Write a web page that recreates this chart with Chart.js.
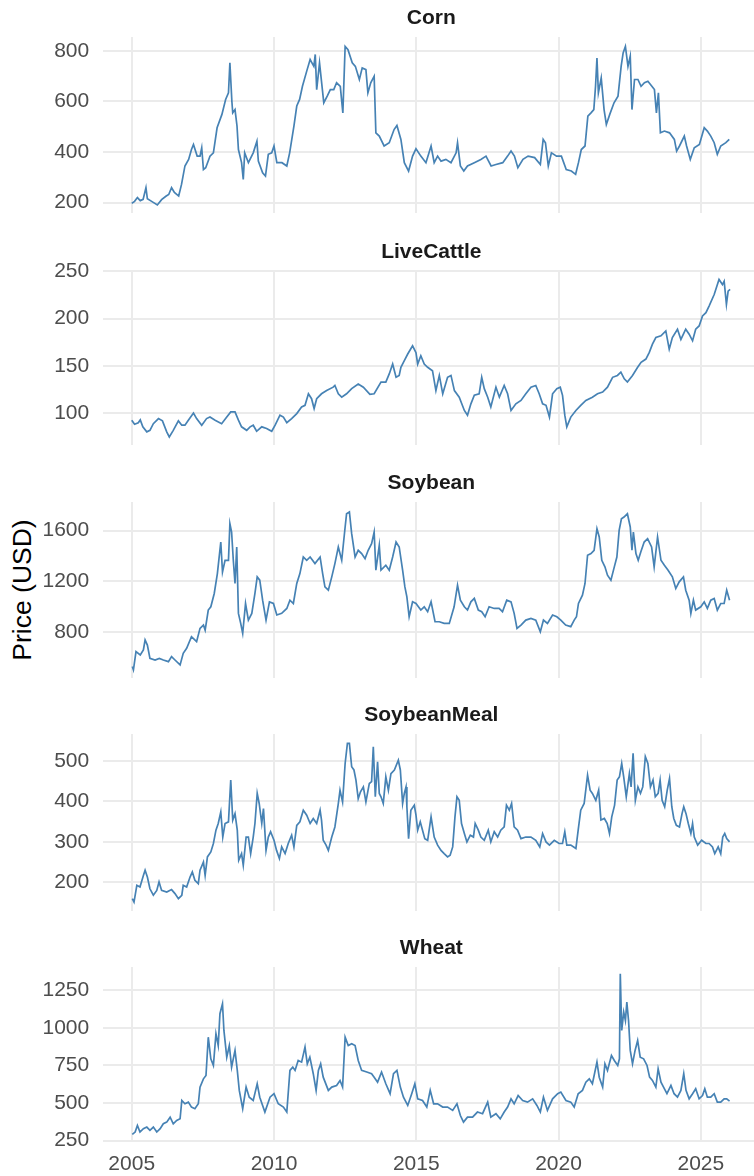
<!DOCTYPE html>
<html>
<head>
<meta charset="utf-8">
<title>Commodity futures prices</title>
<script src="https://cdn.jsdelivr.net/npm/chart.js@4.4.1/dist/chart.umd.min.js"></script>
<style>
  html, body { margin: 0; padding: 0; background: #ffffff; width: 754px; height: 1176px; overflow: hidden; }
  #wrap { position: relative; width: 754px; height: 1176px; overflow: hidden; }
  #wrap canvas { position: absolute; left: 0; }
  #ytitle {
    position: absolute; left: 21.7px; top: 589.5px;
    transform: translate(-50%, -50%) rotate(-90deg);
    font: 26.5px "Liberation Sans", Arial, Helvetica, sans-serif;
    color: #000000; white-space: nowrap;
  }
</style>
</head>
<body>
<div id="wrap"><div id="ytitle">Price (USD)</div></div>
<script>
// ---- data: [decimal year, price] ----
const corn = [[2005.00,197],[2005.10,205],[2005.20,220],[2005.30,208],[2005.40,213],[2005.50,259],[2005.55,215],[2005.70,205],[2005.90,191],[2006.05,212],[2006.20,225],[2006.30,232],[2006.40,259],[2006.50,240],[2006.65,226],[2006.75,272],[2006.87,345],[2007.00,371],[2007.10,410],[2007.17,430],[2007.30,384],[2007.40,384],[2007.46,417],[2007.52,331],[2007.60,338],[2007.75,384],[2007.87,397],[2008.00,496],[2008.17,549],[2008.30,608],[2008.40,634],[2008.45,753],[2008.52,600],[2008.55,555],[2008.63,568],[2008.70,503],[2008.75,410],[2008.86,358],[2008.92,292],[2008.97,397],[2009.10,358],[2009.27,397],[2009.40,443],[2009.45,364],[2009.60,318],[2009.70,305],[2009.80,391],[2009.92,397],[2010.00,424],[2010.10,358],[2010.28,358],[2010.45,345],[2010.55,397],[2010.70,503],[2010.80,582],[2010.90,608],[2011.00,660],[2011.15,720],[2011.27,766],[2011.40,739],[2011.45,786],[2011.50,647],[2011.60,753],[2011.75,595],[2011.87,621],[2011.98,647],[2012.10,647],[2012.20,674],[2012.33,660],[2012.42,555],[2012.50,818],[2012.60,805],[2012.75,753],[2012.86,739],[2013.00,687],[2013.10,733],[2013.23,726],[2013.30,634],[2013.40,674],[2013.52,700],[2013.58,476],[2013.70,463],[2013.87,424],[2014.05,437],[2014.22,489],[2014.32,505],[2014.46,450],[2014.58,358],[2014.73,325],[2014.87,384],[2014.99,413],[2015.16,384],[2015.34,358],[2015.52,424],[2015.63,358],[2015.75,384],[2015.87,364],[2016.04,371],[2016.22,358],[2016.40,397],[2016.45,437],[2016.55,345],[2016.67,325],[2016.80,345],[2017.04,358],[2017.27,371],[2017.45,384],[2017.63,345],[2017.80,351],[2018.04,358],[2018.21,384],[2018.33,404],[2018.45,384],[2018.57,338],[2018.75,371],[2018.93,384],[2019.16,378],[2019.36,351],[2019.46,450],[2019.54,437],[2019.64,345],[2019.75,397],[2019.93,384],[2020.10,384],[2020.27,331],[2020.45,325],[2020.60,312],[2020.70,358],[2020.80,410],[2020.93,424],[2021.03,542],[2021.14,555],[2021.24,568],[2021.30,660],[2021.35,772],[2021.40,634],[2021.50,693],[2021.60,568],[2021.68,509],[2021.80,549],[2021.95,595],[2022.09,621],[2022.20,739],[2022.27,792],[2022.35,818],[2022.44,739],[2022.52,779],[2022.58,568],[2022.67,687],[2022.79,687],[2022.90,660],[2023.02,674],[2023.14,680],[2023.28,660],[2023.37,647],[2023.44,555],[2023.51,634],[2023.58,476],[2023.72,483],[2023.90,476],[2024.07,450],[2024.15,404],[2024.25,424],[2024.42,463],[2024.50,424],[2024.63,371],[2024.77,417],[2024.95,430],[2025.12,496],[2025.23,483],[2025.35,463],[2025.47,437],[2025.58,391],[2025.70,424],[2025.88,437],[2026.00,450]];

const liveCattle = [[2005.00,92.7],[2005.10,88.5],[2005.23,90],[2005.30,93],[2005.39,85.7],[2005.53,80.4],[2005.64,82],[2005.76,89],[2005.94,94.4],[2006.08,92],[2006.23,80.4],[2006.32,75],[2006.46,82],[2006.64,92],[2006.76,87.4],[2006.87,87.4],[2006.99,92.7],[2007.17,100.3],[2007.28,94.4],[2007.46,87.4],[2007.63,94.4],[2007.75,96],[2007.93,92.7],[2008.16,89],[2008.34,96],[2008.48,101.4],[2008.63,101.4],[2008.75,92.7],[2008.86,85.7],[2009.04,82],[2009.16,85.7],[2009.27,87.4],[2009.39,81],[2009.57,85.7],[2009.74,84],[2009.92,81],[2010.04,87.4],[2010.21,98],[2010.33,96],[2010.45,90],[2010.62,94.4],[2010.80,99.7],[2010.97,106.6],[2011.09,108.4],[2011.21,120.6],[2011.32,115.4],[2011.41,105],[2011.50,115.4],[2011.67,120.6],[2011.85,124],[2012.08,127.6],[2012.14,129.4],[2012.26,120.6],[2012.38,117],[2012.55,120.6],[2012.73,126],[2012.96,131],[2013.14,127.6],[2013.37,120],[2013.52,120.6],[2013.76,133],[2013.93,133],[2014.05,141.6],[2014.17,152],[2014.29,138],[2014.40,139.9],[2014.46,148.6],[2014.58,155.6],[2014.70,162.6],[2014.87,171.3],[2014.99,164],[2015.05,152],[2015.16,160.8],[2015.28,152],[2015.40,148.6],[2015.57,145],[2015.69,124],[2015.81,140],[2015.93,120.6],[2016.10,138],[2016.22,140],[2016.34,124],[2016.51,117],[2016.69,103],[2016.80,98],[2016.92,110],[2017.04,119],[2017.21,120.6],[2017.30,138],[2017.39,126],[2017.51,117],[2017.62,106.6],[2017.80,127.6],[2017.92,117],[2018.09,129.4],[2018.21,120.6],[2018.33,103],[2018.50,110],[2018.68,113.6],[2018.85,120.6],[2019.03,127.6],[2019.20,129.4],[2019.32,120.6],[2019.44,110],[2019.56,108.4],[2019.68,96],[2019.79,120.6],[2019.94,126],[2020.06,127.6],[2020.14,119],[2020.22,98],[2020.29,85.7],[2020.43,96],[2020.61,103],[2020.78,108.4],[2020.96,113.6],[2021.19,117],[2021.37,120.6],[2021.55,122.4],[2021.72,127.6],[2021.90,138],[2022.07,140],[2022.19,143.4],[2022.31,136.4],[2022.42,133],[2022.60,140],[2022.78,148.6],[2022.90,153.9],[2023.07,157.3],[2023.19,164.3],[2023.30,173],[2023.42,180],[2023.60,181.8],[2023.77,187],[2023.89,167.8],[2024.00,180],[2024.18,188.8],[2024.30,178],[2024.47,188.8],[2024.59,183.6],[2024.71,176.6],[2024.82,188.8],[2024.94,192.3],[2025.06,202.8],[2025.18,206.3],[2025.29,213.3],[2025.47,225.5],[2025.64,241.3],[2025.76,236],[2025.82,239.5],[2025.90,215],[2025.96,229],[2026.03,230.8]];

const soybean = [[2005.02,526],[2005.06,500],[2005.15,644],[2005.30,618],[2005.41,657],[2005.47,736],[2005.55,696],[2005.64,591],[2005.82,578],[2005.97,591],[2006.11,578],[2006.29,565],[2006.40,605],[2006.52,578],[2006.70,539],[2006.81,631],[2006.93,670],[2007.10,762],[2007.28,723],[2007.40,828],[2007.52,854],[2007.58,814],[2007.69,972],[2007.78,998],[2007.90,1103],[2008.01,1260],[2008.13,1509],[2008.19,1273],[2008.28,1365],[2008.40,1365],[2008.45,1654],[2008.51,1588],[2008.57,1365],[2008.63,1182],[2008.69,1470],[2008.75,946],[2008.83,867],[2008.90,788],[2009.00,1024],[2009.10,893],[2009.22,946],[2009.33,1103],[2009.41,1234],[2009.50,1208],[2009.60,1050],[2009.72,893],[2009.84,1037],[2009.98,1024],[2010.10,933],[2010.27,946],[2010.45,985],[2010.56,1050],[2010.68,1024],[2010.80,1182],[2010.91,1260],[2011.03,1391],[2011.15,1365],[2011.27,1391],[2011.44,1339],[2011.62,1391],[2011.71,1260],[2011.79,1155],[2011.91,1129],[2012.03,1234],[2012.14,1339],[2012.26,1470],[2012.38,1365],[2012.50,1628],[2012.55,1732],[2012.65,1746],[2012.73,1575],[2012.85,1391],[2012.96,1444],[2013.08,1418],[2013.20,1378],[2013.31,1444],[2013.43,1496],[2013.52,1588],[2013.58,1287],[2013.70,1483],[2013.76,1287],[2013.93,1326],[2014.05,1287],[2014.17,1391],[2014.29,1509],[2014.40,1470],[2014.52,1287],[2014.60,1155],[2014.67,1077],[2014.75,919],[2014.87,1037],[2014.99,1024],[2015.16,972],[2015.28,998],[2015.40,959],[2015.52,1037],[2015.66,880],[2015.81,880],[2015.98,867],[2016.16,867],[2016.33,998],[2016.45,1169],[2016.55,1050],[2016.69,998],[2016.80,972],[2016.92,1037],[2017.04,1064],[2017.18,972],[2017.30,959],[2017.42,919],[2017.56,998],[2017.74,985],[2017.91,985],[2018.03,959],[2018.18,1050],[2018.33,1037],[2018.44,946],[2018.54,828],[2018.68,854],[2018.85,893],[2019.03,906],[2019.20,893],[2019.36,801],[2019.47,893],[2019.61,867],[2019.79,933],[2019.94,919],[2020.08,893],[2020.25,854],[2020.43,841],[2020.55,893],[2020.63,919],[2020.70,1024],[2020.84,1090],[2020.93,1182],[2021.02,1405],[2021.14,1418],[2021.25,1444],[2021.35,1614],[2021.43,1549],[2021.52,1365],[2021.63,1313],[2021.72,1247],[2021.84,1208],[2021.96,1313],[2022.05,1391],[2022.13,1601],[2022.21,1693],[2022.30,1706],[2022.42,1732],[2022.52,1628],[2022.58,1444],[2022.63,1588],[2022.72,1418],[2022.80,1365],[2022.89,1431],[2023.01,1509],[2023.13,1536],[2023.27,1470],[2023.36,1313],[2023.48,1549],[2023.60,1365],[2023.72,1326],[2023.85,1287],[2024.00,1234],[2024.12,1142],[2024.24,1195],[2024.39,1234],[2024.47,1129],[2024.59,1050],[2024.65,946],[2024.74,1050],[2024.82,972],[2025.00,998],[2025.12,1037],[2025.23,985],[2025.35,1050],[2025.47,1064],[2025.58,972],[2025.70,1024],[2025.82,1024],[2025.91,1129],[2026.01,1050]];

const soybeanMeal = [[2005.02,159.5],[2005.08,151],[2005.18,192.6],[2005.29,188.4],[2005.41,217],[2005.47,230],[2005.55,213],[2005.64,184],[2005.76,168],[2005.88,180],[2005.96,201],[2006.05,180],[2006.23,176],[2006.40,182],[2006.52,172],[2006.64,159.5],[2006.76,168],[2006.81,192.6],[2006.93,188.4],[2007.05,213],[2007.13,225.6],[2007.22,205],[2007.34,196.7],[2007.40,230],[2007.52,250],[2007.58,217],[2007.66,262.8],[2007.78,275],[2007.87,296],[2007.96,329],[2008.04,345.5],[2008.13,374],[2008.20,312],[2008.28,345.5],[2008.40,349.6],[2008.48,453],[2008.55,354],[2008.63,370],[2008.71,329],[2008.76,254.5],[2008.86,271],[2008.92,242],[2009.02,312],[2009.10,312],[2009.18,271],[2009.27,312],[2009.33,345.5],[2009.41,420],[2009.48,395],[2009.57,345.5],[2009.63,382.6],[2009.72,279],[2009.80,312],[2009.88,325],[2010.00,304],[2010.09,279],[2010.19,258.7],[2010.27,287.6],[2010.39,271],[2010.50,296],[2010.62,316.5],[2010.70,287.6],[2010.80,341],[2010.91,349.6],[2011.03,378.5],[2011.15,366],[2011.27,345.5],[2011.38,358],[2011.50,345.5],[2011.62,378.5],[2011.67,353.7],[2011.73,304],[2011.83,292],[2011.91,279],[2012.03,312],[2012.14,337],[2012.26,395],[2012.32,428],[2012.41,399],[2012.50,494],[2012.58,544],[2012.65,544],[2012.73,486],[2012.81,478],[2012.88,453],[2012.96,407],[2013.04,424],[2013.14,436],[2013.23,399],[2013.35,444.6],[2013.43,449],[2013.49,535.5],[2013.56,411.6],[2013.64,498],[2013.70,420],[2013.76,411.6],[2013.84,395],[2013.93,461],[2014.02,428],[2014.11,469],[2014.23,478],[2014.37,502],[2014.44,478],[2014.52,395],[2014.58,420],[2014.64,436],[2014.67,387],[2014.73,308],[2014.81,378.5],[2014.93,391],[2014.99,366],[2015.05,329],[2015.14,349.6],[2015.22,329],[2015.30,308],[2015.40,304],[2015.52,362],[2015.63,312],[2015.75,292],[2015.87,279],[2015.98,271],[2016.10,263],[2016.19,267],[2016.28,287.6],[2016.36,362],[2016.43,411.6],[2016.51,403],[2016.59,345.5],[2016.69,320.7],[2016.78,300],[2016.90,316.5],[2017.01,312],[2017.07,345.5],[2017.18,329],[2017.27,312],[2017.39,304],[2017.53,329],[2017.62,300],[2017.74,325],[2017.86,312],[2017.97,329],[2018.09,337],[2018.17,391],[2018.27,378.5],[2018.35,395],[2018.44,337],[2018.56,329],[2018.68,308],[2018.85,312],[2019.03,312],[2019.20,304],[2019.34,287.6],[2019.44,320.7],[2019.56,300],[2019.68,292],[2019.85,304],[2020.02,296],[2020.14,296],[2020.22,325],[2020.29,292],[2020.43,292],[2020.61,283.5],[2020.69,329],[2020.78,378.5],[2020.90,395],[2021.02,465],[2021.11,428],[2021.19,420],[2021.31,403],[2021.41,428],[2021.49,354],[2021.61,358],[2021.71,345.5],[2021.79,320.7],[2021.87,362],[2021.97,391],[2022.06,453],[2022.14,461],[2022.22,494],[2022.29,461],[2022.38,411.6],[2022.49,469],[2022.55,436],[2022.62,519],[2022.70,403],[2022.79,436],[2022.88,420],[2022.96,436],[2023.05,511],[2023.14,494],[2023.23,436],[2023.32,453],[2023.40,411.6],[2023.50,420],[2023.57,453],[2023.64,403],[2023.73,387],[2023.82,428],[2023.90,457],[2023.98,387],[2024.05,358],[2024.14,341],[2024.25,337],[2024.34,370],[2024.40,387],[2024.48,370],[2024.56,345.5],[2024.65,320.7],[2024.71,345.5],[2024.77,312],[2024.89,292],[2025.03,304],[2025.18,296],[2025.29,296],[2025.41,287.6],[2025.49,271],[2025.61,287.6],[2025.70,271],[2025.77,312],[2025.84,320.7],[2025.91,308],[2026.01,300]];

const wheat = [[2005.02,291],[2005.12,307],[2005.20,351],[2005.29,307],[2005.41,329],[2005.53,340],[2005.64,318],[2005.76,340],[2005.88,307],[2006.00,329],[2006.11,362],[2006.23,373],[2006.35,406],[2006.46,362],[2006.58,384],[2006.70,395],[2006.76,517],[2006.87,495],[2006.99,506],[2007.10,473],[2007.22,462],[2007.34,495],[2007.40,606],[2007.52,661],[2007.61,683],[2007.69,938],[2007.78,794],[2007.87,750],[2007.96,961],[2008.04,883],[2008.10,1094],[2008.19,1160],[2008.24,983],[2008.34,805],[2008.43,883],[2008.51,739],[2008.63,850],[2008.71,717],[2008.78,584],[2008.90,462],[2009.02,606],[2009.13,539],[2009.27,517],[2009.41,628],[2009.50,539],[2009.68,440],[2009.86,539],[2010.00,562],[2010.15,495],[2010.33,473],[2010.45,440],[2010.56,717],[2010.66,739],[2010.74,717],[2010.85,783],[2010.97,772],[2011.09,872],[2011.17,761],[2011.26,805],[2011.38,695],[2011.48,584],[2011.56,717],[2011.64,761],[2011.73,672],[2011.91,584],[2012.03,606],[2012.20,617],[2012.32,650],[2012.41,606],[2012.50,938],[2012.61,883],[2012.73,894],[2012.85,883],[2012.96,783],[2013.08,717],[2013.26,706],[2013.43,695],[2013.52,672],[2013.64,639],[2013.78,706],[2013.93,628],[2014.08,562],[2014.20,695],[2014.32,717],[2014.44,606],[2014.55,539],[2014.70,484],[2014.84,562],[2014.95,628],[2015.05,528],[2015.22,517],[2015.37,473],[2015.49,584],[2015.61,495],[2015.75,495],[2015.93,473],[2016.10,473],[2016.28,451],[2016.43,495],[2016.55,417],[2016.66,373],[2016.80,406],[2016.98,406],[2017.15,440],[2017.33,429],[2017.51,506],[2017.62,406],[2017.80,429],[2017.95,395],[2018.09,440],[2018.21,473],[2018.33,528],[2018.44,495],[2018.58,550],[2018.74,517],[2018.91,506],[2019.09,528],[2019.24,484],[2019.36,440],[2019.47,539],[2019.61,451],[2019.79,528],[2019.97,562],[2020.08,573],[2020.26,517],[2020.43,506],[2020.55,473],[2020.69,562],[2020.84,584],[2020.96,639],[2021.08,661],[2021.19,628],[2021.35,772],[2021.43,672],[2021.55,606],[2021.63,761],[2021.72,717],[2021.86,816],[2021.96,783],[2022.08,750],[2022.14,794],[2022.17,1360],[2022.22,983],[2022.29,1105],[2022.35,1049],[2022.40,1171],[2022.46,1049],[2022.52,850],[2022.60,761],[2022.69,850],[2022.78,916],[2022.87,805],[2022.99,794],[2023.11,750],[2023.20,672],[2023.30,650],[2023.42,606],[2023.50,728],[2023.60,639],[2023.69,606],[2023.81,562],[2023.95,617],[2024.06,562],[2024.18,539],[2024.30,584],[2024.40,695],[2024.48,584],[2024.59,528],[2024.71,562],[2024.82,595],[2024.94,528],[2025.06,550],[2025.14,595],[2025.23,539],[2025.35,539],[2025.47,562],[2025.58,506],[2025.70,506],[2025.82,528],[2025.91,528],[2026.01,513]];

// ---- axis ticks ----
const yearTicks = [2005, 2010, 2015, 2020, 2025];
const cornTicks = [200, 400, 600, 800];
const cattleTicks = [100, 150, 200, 250];
const soybeanTicks = [800, 1200, 1600];
const mealTicks = [200, 300, 400, 500];
const wheatTicks = [250, 500, 750, 1000, 1250];

// ---- facets ----
const facets = [
  { name: 'Corn',        series: corn,        ticks: cornTicks,    min: 159,   max: 855 },
  { name: 'LiveCattle',  series: liveCattle,  ticks: cattleTicks,  min: 66.5,  max: 250.3 },
  { name: 'Soybean',     series: soybean,     ticks: soybeanTicks, min: 436,   max: 1825 },
  { name: 'SoybeanMeal', series: soybeanMeal, ticks: mealTicks,    min: 129,   max: 567 },
  { name: 'Wheat',       series: wheat,       ticks: wheatTicks,   min: 240.7, max: 1405 }
];

// ---- layout (px) ----
const panelTops    = [37, 271, 502, 734, 967];
const panelHeights = [176, 174, 176, 177, 175];
const stripSpace = 37;      // room for the facet title above each panel
const xAxisSpace = 34;      // room for year labels under the last panel
const axisWidth = 102.7;    // y tick label column
const canvasWidth = 760;
const xRange = [2003.98, 2027.08];

const FONT = '"Liberation Sans", Arial, Helvetica, sans-serif';
const LINE_COLOR = '#4682B4';
const GRID_COLOR = '#EBEBEB';

// facet strip title drawn just above each panel
const stripTitle = {
  id: 'stripTitle',
  afterDraw(chart, args, opts) {
    const { ctx, chartArea } = chart;
    ctx.save();
    ctx.font = 'bold 21px ' + FONT;
    ctx.fillStyle = '#1A1A1A';
    ctx.textAlign = 'center';
    ctx.textBaseline = 'alphabetic';
    ctx.fillText(opts.text, (chartArea.left + chartArea.right) / 2, chartArea.top - 13.4);
    ctx.restore();
  }
};

// keep the panel exactly where the layout says: no extra room for tick label overhang
const noOverhang = s => { s.paddingTop = 0; s.paddingBottom = 0; s.paddingLeft = 0; s.paddingRight = 0; };

const wrap = document.getElementById('wrap');

facets.forEach((f, i) => {
  const last = i === facets.length - 1;
  const canvas = document.createElement('canvas');
  const h = stripSpace + panelHeights[i] + (last ? xAxisSpace : 0);
  canvas.width = canvasWidth;
  canvas.height = h;
  canvas.style.width = canvasWidth + 'px';
  canvas.style.height = h + 'px';
  canvas.style.top = (panelTops[i] - stripSpace) + 'px';
  wrap.appendChild(canvas);

  new Chart(canvas, {
    type: 'line',
    data: {
      datasets: [{
        label: f.name,
        data: f.series.map(p => ({ x: p[0], y: p[1] })),
        borderColor: LINE_COLOR,
        borderWidth: 1.7,
        pointRadius: 0,
        tension: 0,
        fill: false
      }]
    },
    options: {
      responsive: false,
      animation: false,
      devicePixelRatio: 1,
      layout: { padding: { top: stripSpace, left: 0, right: 0, bottom: 0 } },
      plugins: {
        legend: { display: false },
        tooltip: { enabled: false },
        title: { display: false },
        stripTitle: { text: f.name }
      },
      scales: {
        x: {
          type: 'linear',
          min: xRange[0],
          max: xRange[1],
          afterBuildTicks: s => { s.ticks = yearTicks.map(v => ({ value: v })); },
          afterFit: s => { s.height = last ? xAxisSpace : 0; noOverhang(s); },
          border: { display: false },
          grid: { color: GRID_COLOR, lineWidth: 2, drawTicks: false },
          ticks: {
            display: last,
            padding: 10,
            maxRotation: 0,
            color: '#4D4D4D',
            font: { family: FONT, size: 21 },
            callback: v => String(v)
          }
        },
        y: {
          type: 'linear',
          min: f.min,
          max: f.max,
          afterBuildTicks: s => { s.ticks = f.ticks.map(v => ({ value: v })); },
          afterFit: s => { s.width = axisWidth; noOverhang(s); },
          border: { display: false },
          grid: { color: GRID_COLOR, lineWidth: 2, drawTicks: false },
          ticks: {
            padding: 13.5,
            color: '#4D4D4D',
            font: { family: FONT, size: 21 },
            callback: v => String(v)
          }
        }
      }
    },
    plugins: [stripTitle]
  });
});
</script>
</body>
</html>
